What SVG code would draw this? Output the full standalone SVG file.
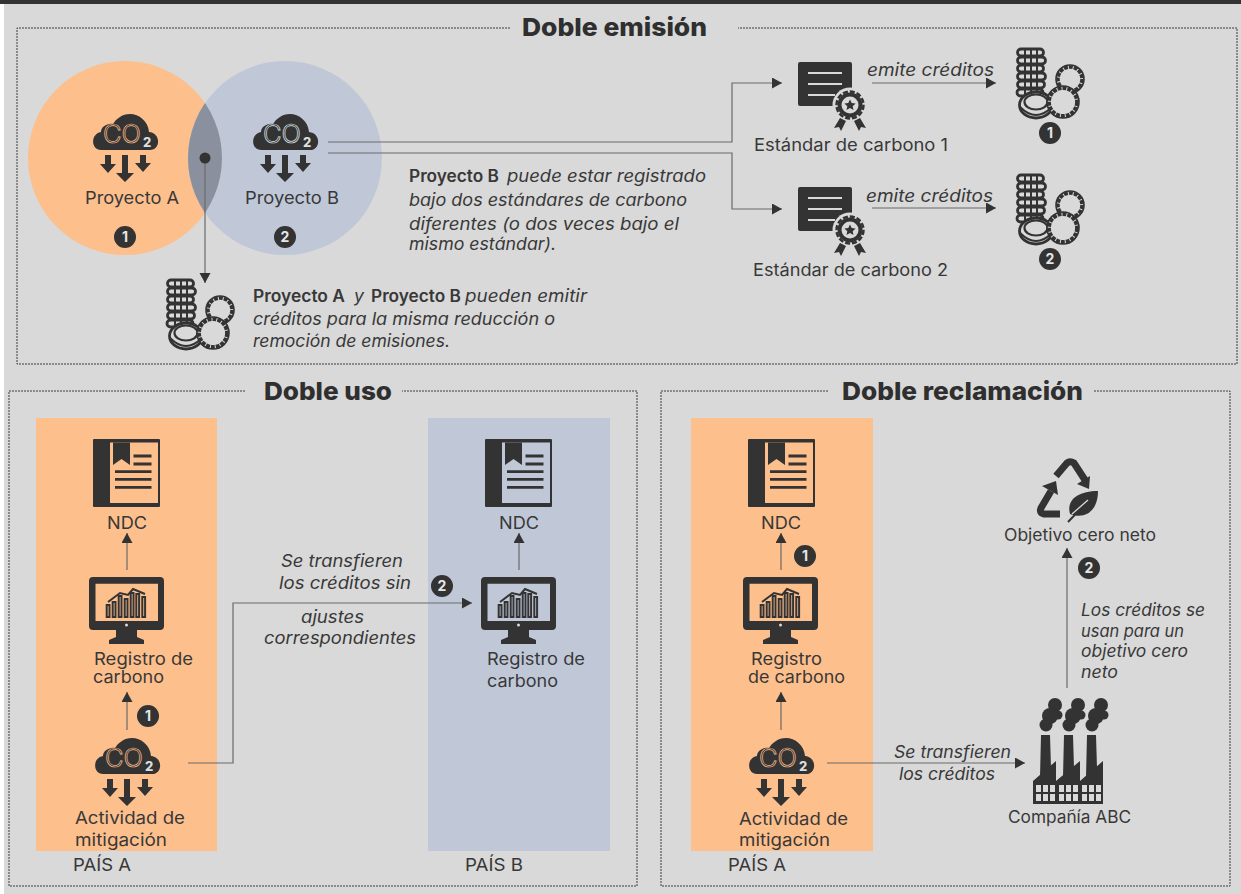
<svg xmlns="http://www.w3.org/2000/svg" xmlns:xlink="http://www.w3.org/1999/xlink" width="1241" height="894" viewBox="0 0 1241 894">
<style>
text{font-family:Inter,"Open Sans","Liberation Sans",sans-serif;fill:#383838;font-size:17px}
.i{font-style:italic}
.b{font-weight:600}
.t{font-weight:800;font-size:25px;fill:#2f2f2f}
.n{font-weight:700;font-size:14px;fill:#e6e6e6;text-anchor:middle}
.co{font-size:25px;font-weight:300;fill:#333;stroke-width:.7}
.two{font-size:13px;font-weight:800;fill:#ddd}
.d{fill:none;stroke:#3c3c3c;stroke-width:1;stroke-dasharray:2 1}
.c{fill:none;stroke:#6a6a6a;stroke-width:1.2}
.k{fill:#333}
</style>
<defs>
<marker id="ah" markerUnits="userSpaceOnUse" markerWidth="11" markerHeight="12" refX="10" refY="5.500" orient="auto"><path d="M0 0L10 5.500L0 11Z" fill="#333"/></marker>
<clipPath id="clipA"><circle cx="125" cy="158" r="97"/></clipPath>
<symbol id="cloud" overflow="visible">
<path class="k" d="M-24 36H25C36 36 36 19 24 18C23 7 14 0 5 0C-3 0 -9 5 -12 10C-18 9 -24 13 -24 18C-35 20 -34 36 -24 36Z"/>
<path class="k" d="M-20 41h6v9h5L-17 59L-25 50h5ZM-3 41h6v18h6L0 68L-9 59h6ZM15 41h6v8h5L18 58L10 49h5Z"/>
</symbol>
<symbol id="coins" overflow="visible">
<g fill="none" stroke="#333" stroke-width="2.800">
<rect x="1.500" y="1" width="26" height="7" rx="3.500"/><rect x="1.500" y="9" width="28" height="7" rx="3.500"/><rect x="1.500" y="17" width="26" height="7" rx="3.500"/><rect x="1.500" y="25" width="28" height="7" rx="3.500"/><rect x="1.500" y="33" width="27" height="7" rx="3.500"/><rect x="1" y="41" width="26" height="7" rx="3.500"/>
<path d="M9 1v46M15 1v46M21 1v46" stroke-width="2"/>
<circle cx="54" cy="31" r="14" fill="#d9d9d9" stroke-width="1.600"/><circle cx="54" cy="31" r="12" stroke-width="3.500" stroke-dasharray="4 1"/>
<ellipse cx="20" cy="57" rx="16.500" ry="13" fill="#d9d9d9" stroke-width="2.800"/><ellipse cx="20" cy="54" rx="11.500" ry="7.500" stroke-width="2.200"/><path d="M4 59q16 16 32 0" stroke-width="2.200"/>
<circle cx="47" cy="54" r="16" fill="#d9d9d9" stroke-width="1.600"/><circle cx="47" cy="54" r="14" stroke-width="3.800" stroke-dasharray="4 1"/>
</g>
</symbol>
<symbol id="cert" overflow="visible">
<rect width="54" height="44" rx="2" class="k"/>
<path d="M10 11H44M10 22H44M10 33H37" stroke="#d9d9d9" stroke-width="2"/>
<circle cx="52" cy="43" r="17.500" fill="#d9d9d9"/>
<circle cx="52" cy="43" r="12.500" class="k"/><circle cx="52" cy="43" r="13.500" fill="none" stroke="#333" stroke-width="2.500" stroke-dasharray="5 2"/>
<circle cx="52" cy="43" r="8.500" fill="#d9d9d9"/>
<path class="k" d="M52 37.500l1.700 3.600 3.900.4-2.900 2.700.8 3.900-3.500-2-3.500 2 .8-3.900-2.900-2.700 3.900-.4Z"/>
<path class="k" d="M42 56l6 3-5 10-2-4-5 1ZM62 56l-6 3 5 10 2-4 5 1Z"/>
</symbol>
<symbol id="book" overflow="visible">
<path class="k" fill-rule="evenodd" d="M1 0H66a1 1 0 0 1 1 1V67a1 1 0 0 1-1 1H1a1 1 0 0 1-1-1V1a1 1 0 0 1 1-1ZM17 3.500V64H65V3.500Z"/>
<path class="k" d="M20 3.500H37V26L28.500 20L20 26Z"/>
<path d="M40.500 17H58.500M40.500 25H58.500M22 32.700H58.500M22 40.300H58.500M22 48.300H58.500" stroke="#333" stroke-width="2.800" fill="none"/>
</symbol>
<symbol id="mon" overflow="visible">
<path class="k" fill-rule="evenodd" d="M4 0H71a4 4 0 0 1 4 4V49a4 4 0 0 1-4 4H4a4 4 0 0 1-4-4V4a4 4 0 0 1 4-4ZM6.500 6.700V44H69V6.700Z"/>
<path class="k" d="M27 53H48V60L55 63V67H20V63L27 60Z"/>
<circle cx="37.500" cy="48" r="1.500" fill="#d9d9d9"/>
<g fill="none" stroke="#333" stroke-width="2"><rect x="17.700" y="28" width="2.800" height="12"/><rect x="23.700" y="25" width="2.800" height="15"/><rect x="29.700" y="19" width="2.800" height="21"/><rect x="35.700" y="22" width="2.800" height="18"/><rect x="41.700" y="16" width="2.800" height="24"/><rect x="47.300" y="17" width="2.800" height="23"/><rect x="53.300" y="20" width="2.800" height="20"/><path d="M19 25L31 16L39 18L44 12L56 17"/></g>
</symbol>
</defs>

<rect width="1241" height="894" fill="#fff"/>
<rect x="4" width="1237" height="894" fill="#d9d9d9"/>
<rect width="1241" height="4" fill="#333"/>

<g id="panel-doble-emision">
<path class="d" d="M510 28H17V364H1237V28H738"/>
<text class="t" x="522" y="36" textLength="185" lengthAdjust="spacingAndGlyphs">Doble emisión</text>
</g>
<g id="panel-doble-uso">
<path class="d" d="M245 391H9V886H637V391H402"/>
<text class="t" x="264" y="400" textLength="128" lengthAdjust="spacingAndGlyphs">Doble uso</text>
<rect x="36" y="418" width="181" height="433" fill="#fdbf8c"/>
<rect x="428" y="418" width="182" height="433" fill="#c0c8d8"/>
<text x="73" y="871" textLength="58" lengthAdjust="spacingAndGlyphs">PAÍS A</text>
<text x="465" y="871" textLength="58" lengthAdjust="spacingAndGlyphs">PAÍS B</text>
</g>
<g id="panel-doble-reclamacion">
<path class="d" d="M828 391H661V886H1230V391H1093"/>
<text class="t" x="842" y="400" textLength="241" lengthAdjust="spacingAndGlyphs">Doble reclamación</text>
<rect x="691" y="418" width="182" height="433" fill="#fdbf8c"/>
<text x="728" y="871" textLength="58" lengthAdjust="spacingAndGlyphs">PAÍS A</text>
</g>

<g id="venn">
<circle cx="125" cy="158" r="97" fill="#fdbf8c"/>
<circle cx="285" cy="158" r="97" fill="#c0c8d8"/>
<circle cx="285" cy="158" r="97" fill="#8b909e" clip-path="url(#clipA)"/>
</g>

<g id="connectors" class="conn">
<path class="c" d="M205 158V283" marker-end="url(#ah)"/>
<path class="c" d="M328 142H732V83H782" marker-end="url(#ah)"/>
<path class="c" d="M328 153H732V209H782" marker-end="url(#ah)"/>
<path class="c" d="M872 83H996" marker-end="url(#ah)"/>
<path class="c" d="M872 208H996" marker-end="url(#ah)"/>
<path class="c" d="M127 570V533" marker-end="url(#ah)"/>
<path class="c" d="M127 730V692" marker-end="url(#ah)"/>
<path class="c" d="M188 763H233V603H472" marker-end="url(#ah)"/>
<path class="c" d="M519 570V533" marker-end="url(#ah)"/>
<path class="c" d="M781 570V533" marker-end="url(#ah)"/>
<path class="c" d="M781 730V692" marker-end="url(#ah)"/>
<path class="c" d="M827 763H1025" marker-end="url(#ah)"/>
<path class="c" d="M1067 688V548" marker-end="url(#ah)"/>
</g>
<circle cx="205" cy="158" r="5.500" fill="#333"/>

<g id="proyecto-a">
<use href="#cloud" x="125" y="114"/>
<text class="co" x="103" y="143" stroke="#fdbf8c" textLength="38" lengthAdjust="spacingAndGlyphs">CO</text><text class="two" x="143" y="147">2</text>
<text x="85" y="204" textLength="94" lengthAdjust="spacingAndGlyphs">Proyecto A</text>
<circle cx="125" cy="237" r="11" class="k"/><text class="n" x="125" y="242">1</text>
</g>
<g id="proyecto-b">
<use href="#cloud" x="285" y="114"/>
<text class="co" x="263" y="143" stroke="#dfe3ea" textLength="38" lengthAdjust="spacingAndGlyphs">CO</text><text class="two" x="303" y="147">2</text>
<text x="245" y="204" textLength="94" lengthAdjust="spacingAndGlyphs">Proyecto B</text>
<circle cx="285" cy="237" r="11" class="k"/><text class="n" x="285" y="242">2</text>
</g>
<g id="nota-b">
<text class="b" x="409" y="182" textLength="90" lengthAdjust="spacingAndGlyphs">Proyecto B</text>
<text class="i" x="507" y="182" textLength="199" lengthAdjust="spacingAndGlyphs">puede estar registrado</text>
<text class="i" x="409" y="206" textLength="278" lengthAdjust="spacingAndGlyphs">bajo dos estándares de carbono</text>
<text class="i" x="409" y="230" textLength="270" lengthAdjust="spacingAndGlyphs">diferentes (o dos veces bajo el</text>
<text class="i" x="409" y="250" textLength="147" lengthAdjust="spacingAndGlyphs">mismo estándar).</text>
</g>
<g id="creditos-comunes">
<use href="#coins" x="166" y="279"/>
<text class="b" x="253" y="302" textLength="92" lengthAdjust="spacingAndGlyphs">Proyecto A</text>
<text class="i" x="354" y="302" textLength="10" lengthAdjust="spacingAndGlyphs">y</text>
<text class="b" x="371" y="302" textLength="90" lengthAdjust="spacingAndGlyphs">Proyecto B</text>
<text class="i" x="465" y="302" textLength="122" lengthAdjust="spacingAndGlyphs">pueden emitir</text>
<text class="i" x="253" y="325" textLength="302" lengthAdjust="spacingAndGlyphs">créditos para la misma reducción o</text>
<text class="i" x="253" y="347" textLength="197" lengthAdjust="spacingAndGlyphs">remoción de emisiones.</text>
</g>
<g id="estandar-1">
<use href="#cert" x="798" y="62"/>
<text x="754" y="151" textLength="194" lengthAdjust="spacingAndGlyphs">Estándar de carbono 1</text>
<text class="i" x="867" y="76" textLength="127" lengthAdjust="spacingAndGlyphs">emite créditos</text>
</g>
<g id="estandar-2">
<use href="#cert" x="798" y="187"/>
<text x="753" y="276" textLength="195" lengthAdjust="spacingAndGlyphs">Estándar de carbono 2</text>
<text class="i" x="866" y="202" textLength="127" lengthAdjust="spacingAndGlyphs">emite créditos</text>
</g>
<g id="creditos-1">
<use href="#coins" x="1016" y="48"/>
<circle cx="1050" cy="133" r="11" class="k"/><text class="n" x="1050" y="138">1</text>
</g>
<g id="creditos-2">
<use href="#coins" x="1016" y="174"/>
<circle cx="1050" cy="259" r="11" class="k"/><text class="n" x="1050" y="264">2</text>
</g>

<g id="ndc-a"><use href="#book" x="93" y="439"/><text x="107" y="529" textLength="40" lengthAdjust="spacingAndGlyphs">NDC</text></g>
<g id="registro-a"><use href="#mon" x="89" y="577"/>
<text x="94" y="665" textLength="99" lengthAdjust="spacingAndGlyphs">Registro de</text>
<text x="93" y="683" textLength="71" lengthAdjust="spacingAndGlyphs">carbono</text>
<circle cx="148" cy="716" r="11" class="k"/><text class="n" x="148" y="721">1</text></g>
<g id="actividad-a"><use href="#cloud" x="127" y="738"/>
<text class="co" x="105" y="767" stroke="#fdbf8c" textLength="38" lengthAdjust="spacingAndGlyphs">CO</text><text class="two" x="145" y="771">2</text>
<text x="75" y="824" textLength="110" lengthAdjust="spacingAndGlyphs">Actividad de</text>
<text x="75" y="846" textLength="92" lengthAdjust="spacingAndGlyphs">mitigación</text></g>
<g id="ndc-b"><use href="#book" x="485" y="439"/><text x="499" y="529" textLength="40" lengthAdjust="spacingAndGlyphs">NDC</text></g>
<g id="registro-b"><use href="#mon" x="481" y="577"/>
<text x="487" y="665" textLength="98" lengthAdjust="spacingAndGlyphs">Registro de</text>
<text x="487" y="687" textLength="71" lengthAdjust="spacingAndGlyphs">carbono</text></g>
<g id="transferencia-uso">
<text class="i" x="281" y="567" textLength="122" lengthAdjust="spacingAndGlyphs">Se transfieren</text>
<text class="i" x="279" y="589" textLength="132" lengthAdjust="spacingAndGlyphs">los créditos sin</text>
<text class="i" x="301" y="623" textLength="63" lengthAdjust="spacingAndGlyphs">ajustes</text>
<text class="i" x="264" y="644" textLength="152" lengthAdjust="spacingAndGlyphs">correspondientes</text>
<circle cx="442" cy="586" r="11" class="k"/><text class="n" x="442" y="591">2</text>
</g>

<g id="ndc-c"><use href="#book" x="748" y="439"/><text x="761" y="529" textLength="40" lengthAdjust="spacingAndGlyphs">NDC</text>
<circle cx="805" cy="556" r="11" class="k"/><text class="n" x="805" y="561">1</text></g>
<g id="registro-c"><use href="#mon" x="743" y="577"/>
<text x="751" y="665" textLength="71" lengthAdjust="spacingAndGlyphs">Registro</text>
<text x="748" y="683" textLength="97" lengthAdjust="spacingAndGlyphs">de carbono</text></g>
<g id="actividad-c"><use href="#cloud" x="781" y="738"/>
<text class="co" x="759" y="767" stroke="#fdbf8c" textLength="38" lengthAdjust="spacingAndGlyphs">CO</text><text class="two" x="799" y="771">2</text>
<text x="739" y="825" textLength="109" lengthAdjust="spacingAndGlyphs">Actividad de</text>
<text x="739" y="846" textLength="91" lengthAdjust="spacingAndGlyphs">mitigación</text></g>
<g id="transferencia-reclamo">
<text class="i" x="894" y="758" textLength="117" lengthAdjust="spacingAndGlyphs">Se transfieren</text>
<text class="i" x="899" y="780" textLength="96" lengthAdjust="spacingAndGlyphs">los créditos</text>
</g>
<g id="objetivo">
<g transform="translate(1036 458)">
<path d="M20 18L31 5Q34 2.500 38 5L49 22" fill="none" stroke="#333" stroke-width="7"/>
<path class="k" d="M54 18L41 26L53 31Z"/>
<path d="M24 56H8Q3 55 5 50L15 33" fill="none" stroke="#333" stroke-width="7"/>
<path class="k" d="M20 23L6 28L22 37Z"/>
<path class="k" d="M62 33C42 33 30 42 34 56C50 62 62 52 62 33Z"/>
<path d="M32 64L54 41" stroke="#333" stroke-width="2" fill="none"/><path d="M36 56L52 42" stroke="#d9d9d9" stroke-width="1.300" fill="none"/>
</g>
<text x="1004" y="541" textLength="152" lengthAdjust="spacingAndGlyphs">Objetivo cero neto</text>
<circle cx="1089" cy="568" r="11" class="k"/><text class="n" x="1089" y="573">2</text>
<text class="i" x="1081" y="616" textLength="124" lengthAdjust="spacingAndGlyphs">Los créditos se</text>
<text class="i" x="1081" y="637" textLength="103" lengthAdjust="spacingAndGlyphs">usan para un</text>
<text class="i" x="1081" y="657" textLength="107" lengthAdjust="spacingAndGlyphs">objetivo cero</text>
<text class="i" x="1081" y="678" textLength="37" lengthAdjust="spacingAndGlyphs">neto</text>
</g>
<g id="compania">
<g transform="translate(1033 698)">
<g class="k"><circle cx="22" cy="7" r="7"/><circle cx="17" cy="18" r="8"/><circle cx="25" cy="17" r="4.500"/><circle cx="13" cy="27" r="6.500"/><circle cx="45" cy="7" r="7"/><circle cx="40" cy="18" r="8"/><circle cx="48" cy="17" r="4.500"/><circle cx="36" cy="27" r="6.500"/><circle cx="68" cy="7" r="7"/><circle cx="63" cy="18" r="8"/><circle cx="71" cy="17" r="4.500"/><circle cx="59" cy="27" r="6.500"/></g>
<path class="k" d="M8 37H17L18 70L7 79ZM31 37H40L41 70L30 79ZM54 37H63L64 70L53 79Z"/>
<path class="k" d="M0 83L23 63V83L47 63V83L70 63V106H0Z"/>
<g fill="#d9d9d9"><rect x="3" y="87" width="5" height="7"/><rect x="10" y="87" width="5" height="7"/><rect x="17" y="87" width="5" height="7"/><rect x="26" y="87" width="5" height="7"/><rect x="33" y="87" width="5" height="7"/><rect x="40" y="87" width="5" height="7"/><rect x="49" y="87" width="5" height="7"/><rect x="56" y="87" width="5" height="7"/><rect x="63" y="87" width="5" height="7"/><rect x="3" y="96" width="5" height="7"/><rect x="10" y="96" width="5" height="7"/><rect x="17" y="96" width="5" height="7"/><rect x="26" y="96" width="5" height="7"/><rect x="33" y="96" width="5" height="7"/><rect x="40" y="96" width="5" height="7"/><rect x="49" y="96" width="5" height="7"/><rect x="56" y="96" width="5" height="7"/><rect x="63" y="96" width="5" height="7"/></g>
</g>
<text x="1008" y="823" textLength="123" lengthAdjust="spacingAndGlyphs">Compañía ABC</text>
</g>
</svg>
